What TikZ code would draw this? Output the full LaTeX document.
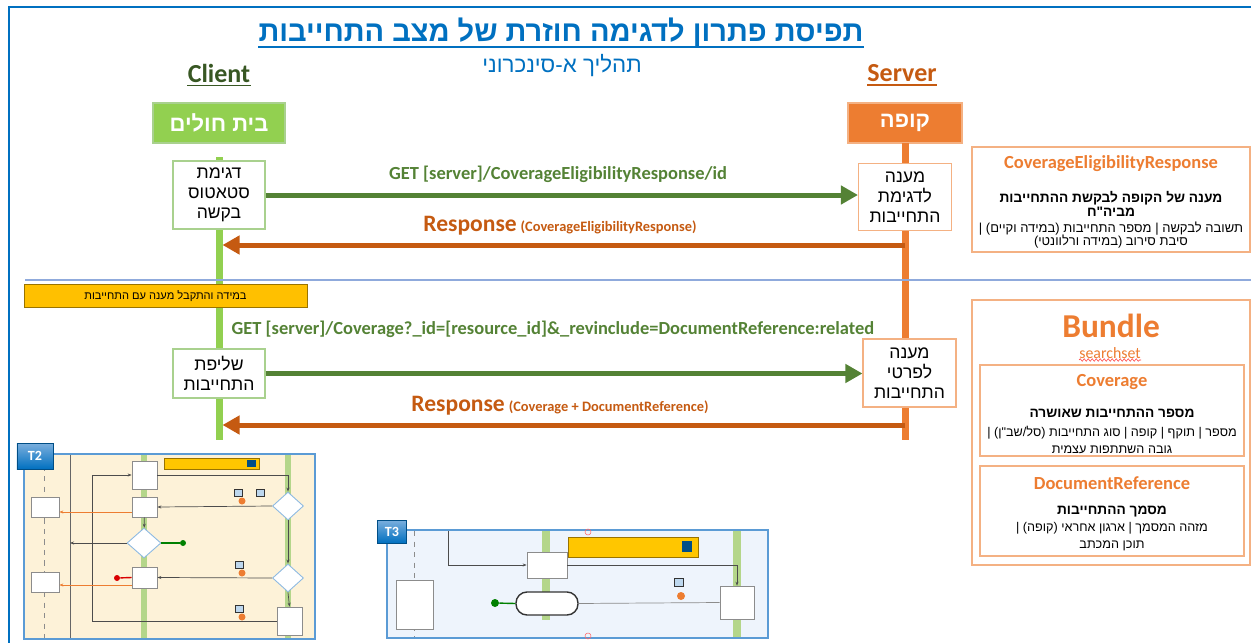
\documentclass[tikz,border=0pt]{standalone}
\usepackage{fontspec}
\setmainfont{Carlito}
\newfontfamily\hebfont[Script=Hebrew]{Liberation Sans}
\TeXXeTstate=1
\usetikzlibrary{arrows.meta,shapes.geometric,decorations.pathmorphing}

\definecolor{frameblue}{HTML}{0070C0}
\definecolor{sepblue}{HTML}{8FAADC}
\definecolor{hospgreen}{HTML}{92D050}
\definecolor{hospline}{HTML}{A9D18E}
\definecolor{clientgreen}{HTML}{385723}
\definecolor{getgreen}{HTML}{548235}
\definecolor{kupaorange}{HTML}{ED7D31}
\definecolor{kupaline}{HTML}{F4B183}
\definecolor{respbrown}{HTML}{C55A11}
\definecolor{noteyellow}{HTML}{FFC000}
\definecolor{thumbblue}{HTML}{5B9BD5}
\definecolor{thumbcream}{HTML}{FDF2D8}
\definecolor{thumbsky}{HTML}{EEF4FC}
\definecolor{thumbgray}{HTML}{8C8C8C}
\definecolor{lanegreen}{HTML}{B4D68A}

\newcommand\heb[1]{{\hebfont\beginR#1\endR}}

\begin{document}
\begin{tikzpicture}[x=0.2mm,y=-0.2mm,
  lifeline/.style={line width=1.4mm},
  head/.style={minimum height=8mm,inner sep=0pt,text=white,line width=0.6pt,font=\fontsize{12.5}{14}\selectfont\bfseries},
  stepbox/.style={draw,fill=white,line width=0.6pt,inner sep=0pt,align=center,font=\fontsize{10}{11.4}\selectfont},
  getline/.style={draw=getgreen,line width=1mm,-{Triangle[length=3.4mm,width=3.6mm]}},
  respline/.style={draw=respbrown,line width=1mm,-{Triangle[length=3.4mm,width=3.6mm]},shorten >=0.7mm},
  getlabel/.style={text=getgreen,font=\fontsize{10.5}{12}\selectfont\bfseries},
  resplabel/.style={text=respbrown,font=\bfseries},
  lanelabel/.style={inner sep=0pt,font=\fontsize{14.8}{16}\selectfont\bfseries},
  infobox/.style={draw=kupaline,line width=0.8pt,fill=white,inner sep=0pt},
  infotitle/.style={text=kupaorange,font=\fontsize{10.5}{12}\selectfont\bfseries},
  infobold/.style={align=center,font=\fontsize{7.8}{8}\selectfont\bfseries},
  infotext/.style={align=center,font=\fontsize{7.4}{7.6}\selectfont},
  tbox/.style={draw=thumbgray,fill=white,line width=0.4pt,inner sep=0pt},
  tdia/.style={diamond,draw=thumbblue!70,fill=white,line width=0.5pt,inner sep=0pt},
  tline/.style={draw=black!70,line width=0.4pt,-{Stealth[length=0.8mm]}},
  tlane/.style={draw=lanegreen,line width=1.2mm},
  tag/.style={draw=frameblue!70!black,top color=thumbblue!80,bottom color=frameblue,text=white,inner sep=0pt,font=\fontsize{8}{9}\selectfont\bfseries},
  icon/.style={draw=black!80,fill=thumbblue!40,line width=0.4pt}]
\useasboundingbox (0,0) rectangle (1251,643);
\draw[frameblue,line width=1.7pt] (1251,7) -- (9,7) -- (9,643);

\node[inner sep=0pt,text=frameblue,font=\fontsize{16.5}{18}\selectfont\bfseries] (title) at (561,32) {\heb{תפיסת פתרון לדגימה חוזרת של מצב התחייבות}};
\draw[frameblue,line width=1.2pt] ([yshift=-1.1mm]title.base west) -- ([yshift=-1.1mm]title.base east);
\node[text=frameblue,font=\fontsize{12.7}{15}\selectfont] (subtitle) at (562,66) {\heb{תהליך א-סינכרוני}};

\node[lanelabel,text=clientgreen] (client) at (219,73) {Client};
\draw[clientgreen,line width=1pt] ([yshift=-0.7mm]client.base west) -- ([yshift=-0.7mm]client.base east);
\node[lanelabel,text=respbrown] (server) at (902,73) {Server};
\draw[respbrown,line width=1pt] ([yshift=-0.7mm]server.base west) -- ([yshift=-0.7mm]server.base east);

\node[head,fill=hospgreen,draw=hospline,minimum width=26.4mm] (hosp) at (219,123) {\heb{בית חולים}};
\node[head,fill=kupaorange,draw=kupaline,minimum width=22.8mm] (kupa) at (905,123) {\heb{קופה}};
\coordinate (ctop) at (219,157);
\coordinate (cbot) at (219,440);
\coordinate (stop) at (905,143);
\coordinate (sbot) at (905,440);
\draw[lifeline,hospgreen] (ctop) -- (cbot);
\draw[lifeline,kupaorange] (stop) -- (sbot);

\node[stepbox,draw=hospline,minimum width=18.4mm,minimum height=13.6mm] (cbox1) at (219,195) {\heb{דגימת}\\\heb{סטאטוס}\\\heb{בקשה}};
\node[stepbox,draw=kupaline,minimum width=18.6mm,minimum height=13.4mm] (sbox1) at (905,197) {\heb{מענה}\\\heb{לדגימת}\\\heb{התחייבות}};
\draw[getline] (cbox1.east) -- (cbox1.east -| sbox1.west);
\node[getlabel] (get1) at (558,174) {GET [server]/CoverageEligibilityResponse/id};
\coordinate (resp1) at (905,245);
\draw[respline] (resp1) -- (resp1 -| ctop);
\node[resplabel] (resp1lbl) at (560,226) {{\fontsize{13.4}{16}\selectfont Response} {\fontsize{8.2}{9}\selectfont (CoverageEligibilityResponse)}};

\draw[sepblue,line width=0.7pt] (25,280) -- (1251,280);
\node[draw=noteyellow!60!black,fill=noteyellow,line width=0.5pt,minimum width=56.6mm,minimum height=4.6mm,inner sep=0pt,font=\fontsize{6.3}{7}\selectfont] (note) at (165.5,296) {\heb{במידה והתקבל מענה עם התחייבות}};

\node[getlabel] (get2) at (553,329) {GET [server]/Coverage?\_id=[resource\_id]\&\_revinclude=DocumentReference:related};
\node[stepbox,draw=hospline,minimum width=18.4mm,minimum height=9.8mm] (cbox2) at (219,373.5) {\heb{שליפת}\\\heb{התחייבות}};
\node[stepbox,draw=kupaline,minimum width=18.6mm,minimum height=13.6mm] (sbox2) at (909.5,373) {\heb{מענה}\\\heb{לפרטי}\\\heb{התחייבות}};
\draw[getline] (cbox2.east) -- (cbox2.east -| sbox2.west);
\coordinate (resp2) at (905,425);
\draw[respline] (resp2) -- (resp2 -| ctop);
\node[resplabel] (resp2lbl) at (560,406) {{\fontsize{13.4}{16}\selectfont Response} {\fontsize{8.2}{9}\selectfont (Coverage + DocumentReference)}};

% resource boxes
\node[infobox,minimum width=55.6mm,minimum height=21mm] (eligbox) at (1111,199.5) {};
\node[infotitle] (eligttl) at (1111,164) {CoverageEligibilityResponse};
\node[infobold] (eligsub) at (1111,204) {\heb{מענה של הקופה לבקשת ההתחייבות}\\\heb{מביה"ח}};
\node[infotext] (eligtxt) at (1111,235) {\heb{תשובה לבקשה | מספר התחייבות (במידה וקיים) |}\\\heb{סיבת סירוב (במידה ורלוונטי)}};

\node[infobox,minimum width=55.6mm,minimum height=53mm] (bundle) at (1111,432.5) {};
\node[text=kupaorange,font=\fontsize{19}{21}\selectfont\bfseries] (bundlettl) at (1111,326) {Bundle};
\node[text=kupaorange,font=\fontsize{9}{10}\selectfont] (bundletype) at (1110,353) {searchset};
\draw[red!80,line width=0.3pt,decorate,decoration={snake,amplitude=0.25mm,segment length=0.8mm}] (1079,360) -- (1141,360);
\node[infobox,minimum width=52.8mm,minimum height=18.2mm] (covbox) at (1112,410.5) {};
\node[infotitle] (covttl) at (1112,382) {Coverage};
\node[infobold] (covsub) at (1112,413) {\heb{מספר ההתחייבות שאושרה}};
\node[infotext,font=\fontsize{7.2}{9.6}\selectfont] (covtxt) at (1112,440) {\heb{מספר | תוקף | קופה | סוג התחייבות (סל/שב"ן) |}\\\heb{גובה השתתפות עצמית}};
\node[infobox,minimum width=52.8mm,minimum height=18mm] (docbox) at (1112,511) {};
\node[infotitle] (docttl) at (1112,483) {DocumentReference};
\node[infobold] (docsub) at (1112,512) {\heb{מסמך ההתחייבות}};
\node[infotext,font=\fontsize{7.2}{9.6}\selectfont] (doctxt) at (1112,537) {\heb{מזהה המסמך | ארגון אחראי (קופה) |}\\\heb{תוכן המכתב}};

% T2 thumbnail
\draw[thumbblue,fill=thumbcream,line width=0.8pt] (24,454) rectangle (315,639);
\draw[thumbgray,dashed,line width=0.3pt] (44,455) -- (44,638);
\draw[black!60,line width=0.5pt] (70,455) -- (70,638);
\draw[tlane] (144,455) -- (144,638);
\draw[tlane] (288,455) -- (288,638);
\node[draw=noteyellow!60!black,fill=noteyellow!90!yellow,inner sep=0pt,minimum width=19mm,minimum height=2.2mm] (t2hdr) at (211.5,463.5) {};
\fill[frameblue!70!black] (247,460) rectangle (256,467);
\node[tbox,minimum width=5mm,minimum height=5.6mm] (t2a) at (144.5,475) {};
\node[tbox,minimum width=5mm,minimum height=4mm] (t2b) at (144.5,507) {};
\node[tdia,minimum width=6.8mm,minimum height=6mm] (t2d) at (144,543) {};
\node[tbox,minimum width=5mm,minimum height=4.2mm] (t2c) at (144.5,577.5) {};
\node[tdia,minimum width=6.2mm,minimum height=5.6mm] (t2r1) at (288,506) {};
\node[tdia,minimum width=6.2mm,minimum height=5.6mm] (t2r2) at (288,578) {};
\node[tbox,minimum width=5mm,minimum height=5.6mm] (t2e) at (289.5,621) {};
\node[tbox,minimum width=5.6mm,minimum height=4mm] (t2l1) at (45,507) {};
\node[tbox,minimum width=5.6mm,minimum height=4mm] (t2l2) at (45,582.5) {};
\node[circle,fill=green!50!black,inner sep=0pt,minimum size=1.2mm] (t2ok) at (183,543) {};
\node[circle,fill=red!85!black,inner sep=0pt,minimum size=1.2mm] (t2stop) at (117,578) {};
\coordinate (t2exit) at (70,543);
\draw[tline] (t2e.west) -- ++(-184,0) |- (t2a.west);
\draw[tline] (t2a.east) -| (t2r1.north);
\draw[tline] (t2r1.west) -- (t2b.east);
\draw[tline,draw=kupaorange] (t2b.west |- 0,512) -- (t2l1.east |- 0,512);
\draw[tline] (t2b) -- (t2d);
\draw[tline] (t2d.west) -- (t2exit);
\draw[green!50!black,line width=0.8pt] (t2d.east) -- (t2ok);
\draw[tline] (t2r1.south) -- (t2r2.north);
\draw[tline] (t2r2.west) -- (t2c.east);
\draw[red!85!black,line width=0.8pt] (t2stop) -- (t2c.west);
\draw[tline,draw=kupaorange] (t2c.west |- 0,585) -- (t2l2.east |- 0,585);
\draw[tline] (t2r2.south) -- (t2e.north);
\foreach \ix/\iy in {234/489,256/489,235/561,235/605}
  \draw[icon] (\ix,\iy) rectangle ++(8,7);
\foreach \fx/\fy in {242/501,242/573,242/617}
  \fill[kupaorange] (\fx,\fy) circle (0.7mm);
\node[tag,minimum width=7.2mm,minimum height=5.2mm] (t2tag) at (35,456) {T2};

% T3 thumbnail
\draw[thumbblue,fill=thumbsky,line width=0.8pt] (387,530) rectangle (768,638);
\draw[thumbgray,dashed,line width=0.3pt] (414,531) -- (414,637);
\draw[tlane,line width=1.6mm] (546,531) -- (546,620);
\draw[tlane,line width=1.6mm] (737,531) -- (737,637);
\node[draw=noteyellow!60!black,fill=noteyellow!90!yellow,inner sep=0pt,minimum width=26mm,minimum height=4mm] (t3hdr) at (633,547) {};
\fill[frameblue!70!black] (682,541) rectangle (692,552);
\node[tbox,minimum width=8mm,minimum height=5.2mm] (t3a) at (547,565) {};
\node[tbox,minimum width=7.4mm,minimum height=9.8mm] (t3l) at (414.5,604.5) {};
\node[draw=black!80,fill=white,rounded corners=2.2mm,line width=0.8pt,inner sep=0pt,minimum width=12.4mm,minimum height=4.6mm] (t3s) at (547,603.5) {};
\node[tbox,minimum width=6.8mm,minimum height=6.6mm] (t3r) at (737,602.5) {};
\node[circle,fill=green!50!black,inner sep=0pt,minimum size=1.6mm] (t3ok) at (495,603) {};
\coordinate (t3in) at (448,531);
\draw[tline] (t3in) |- (t3a.west);
\draw[tline] (t3a.east) -| (t3r.north);
\draw[thumbgray,line width=0.4pt] (t3s.east) -- (t3r.west);
\draw[green!50!black,line width=0.8pt] (t3ok) -- (t3s.west);
\draw[icon] (674,578) rectangle ++(9,8);
\fill[kupaorange] (681,596) circle (0.8mm);
\draw[red!60,line width=0.3pt] (588,532) circle (0.6mm) (588,636) circle (0.6mm);
\node[tag,minimum width=5.8mm,minimum height=4.6mm] (t3tag) at (392,531.5) {T3};
\end{tikzpicture}
\end{document}
